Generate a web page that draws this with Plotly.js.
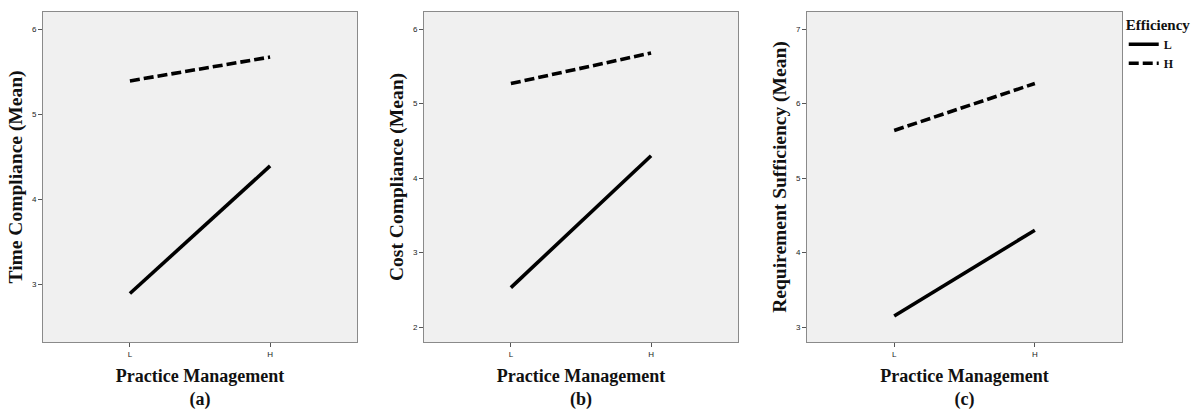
<!DOCTYPE html>
<html>
<head>
<meta charset="utf-8">
<script src="https://cdn.plot.ly/plotly-3.0.1.min.js"></script>
<style>html,body{margin:0;padding:0;background:#fff;}#chart{width:1198px;height:410px;}</style>
</head>
<body>
<div id="chart"></div>
<script>
// Data
const categories = ['L', 'H'];            // Practice Management levels
const seriesNames = ['L', 'H'];           // Efficiency levels
const panelTitles = ['Time Compliance (Mean)', 'Cost Compliance (Mean)', 'Requirement Sufficiency (Mean)'];
const panelLabels = ['(a)', '(b)', '(c)'];
const timeLow = [2.89, 4.39];
const timeHigh = [5.39, 5.67];
const costLow = [2.53, 4.30];
const costHigh = [5.27, 5.68];
const reqLow = [3.15, 4.30];
const reqHigh = [5.64, 6.27];
const yTicksA = [3, 4, 5, 6];
const yTicksB = [2, 3, 4, 5, 6];
const yTicksC = [3, 4, 5, 6, 7];

const panels = [
  {low: timeLow, high: timeHigh, yr: [2.32, 6.2], ticks: yTicksA, dom: [0.0359, 0.298]},
  {low: costLow, high: costHigh, yr: [1.80, 6.23], ticks: yTicksB, dom: [0.3539, 0.616]},
  {low: reqLow, high: reqHigh, yr: [2.80, 7.23], ticks: yTicksC, dom: [0.6736, 0.9366]}
];

const serif = 'Liberation Serif, Times New Roman, serif';
const traces = [];
const layout = {
  width: 1198, height: 410,
  margin: {l: 0, r: 0, t: 0, b: 0},
  paper_bgcolor: '#ffffff',
  plot_bgcolor: '#f0f0f0',
  showlegend: true,
  legend: {
    x: 0.938, y: 0.975, xanchor: 'left', yanchor: 'top',
    bgcolor: 'rgba(0,0,0,0)',
    title: {text: '<b>Efficiency</b>', font: {family: serif, size: 15, color: '#111'}},
    font: {family: serif, size: 12, color: '#111'},
    itemwidth: 30, tracegroupgap: 0
  }
};

panels.forEach((p, i) => {
  const n = i === 0 ? '' : String(i + 1);
  const xa = 'x' + n, ya = 'y' + n;
  [p.low, p.high].forEach((vals, j) => {
    traces.push({
      type: 'scatter', mode: 'lines',
      x: categories, y: vals,
      xaxis: xa, yaxis: ya,
      name: '<b>' + seriesNames[j] + '</b>',
      showlegend: i === 0,
      line: {color: '#000', width: 3.6, dash: j === 0 ? 'solid' : '10px,4px'},
      hoverinfo: 'skip'
    });
  });
  layout['xaxis' + n] = {
    domain: p.dom, anchor: ya, type: 'category',
    range: [-0.62, 1.62],
    showgrid: false, zeroline: false,
    showline: true, mirror: true, linecolor: '#8a8a8a', linewidth: 1,
    ticks: 'outside', ticklen: 4, tickcolor: '#555', tickwidth: 1,
    tickfont: {family: 'Liberation Sans, Arial, sans-serif', size: 8, color: '#222'},
    title: {text: '<b>Practice Management</b><br><b>' + panelLabels[i] + '</b>', font: {family: serif, size: 18, color: '#111'}, standoff: 11},
    fixedrange: true
  };
  layout['yaxis' + n] = {
    domain: [0.1659, 0.9707], anchor: xa,
    range: p.yr, tickvals: p.ticks,
    showgrid: false, zeroline: false,
    showline: true, mirror: true, linecolor: '#8a8a8a', linewidth: 1,
    ticks: 'outside', ticklen: 4, tickcolor: '#555', tickwidth: 1,
    tickfont: {family: 'Liberation Sans, Arial, sans-serif', size: 8, color: '#222'},
    title: {text: '<b>' + panelTitles[i] + '</b>', font: {family: serif, size: 19.5, color: '#111'}, standoff: 4},
    fixedrange: true
  };
});

Plotly.newPlot('chart', traces, layout, {displayModeBar: false, staticPlot: true});
</script>
</body>
</html>
